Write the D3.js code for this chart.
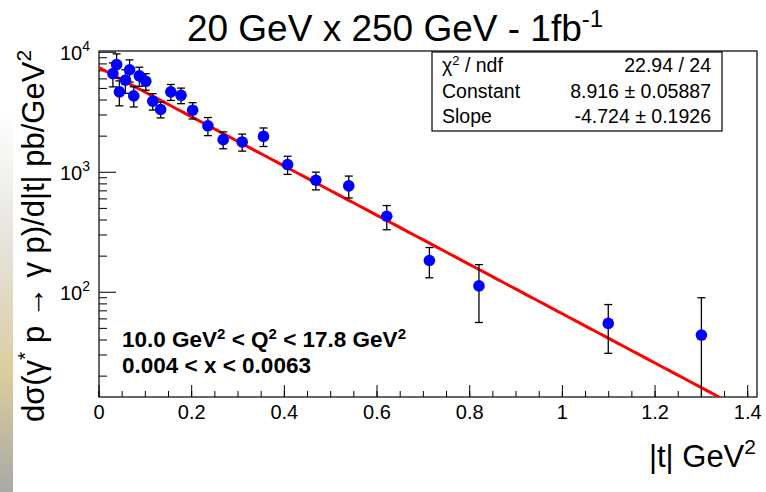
<!DOCTYPE html>
<meta charset="utf-8">
<style>
body { margin: 0; background: #fff; }
text { font-family: "Liberation Sans", Arial, sans-serif; fill: #000; }
.frame { fill: none; stroke: #000; stroke-width: 1.2; }
.tick line { stroke: #000; stroke-width: 1; }
.err { stroke: #000; stroke-width: 1.3; }
.pt { fill: #0000ff; }
.fit { fill: none; stroke: #ff0000; stroke-width: 3; }
</style>
<svg width="766" height="492"></svg>
<script src="https://d3js.org/d3.v7.min.js"></script>
<script>

// |t| bin centres (GeV^2), cross section (pb/GeV^2) and symmetric errors
var tVals   = [0.030, 0.038, 0.044, 0.057, 0.066, 0.075, 0.087, 0.101, 0.116, 0.133, 0.155,
               0.177, 0.202, 0.235, 0.268, 0.309, 0.355, 0.407, 0.468, 0.539, 0.621, 0.713,
               0.820, 1.099, 1.300];
var xsec    = [6650, 7900, 4680, 5850, 7150, 4330, 6360, 5730, 3910, 3340, 4680,
               4380, 3290, 2440, 1870, 1790, 1990, 1160, 858, 770, 430, 184,
               113, 55, 44];
var xsecErr = [1500, 1800, 1100, 1300, 1500, 830, 1150, 900, 610, 500, 710,
               650, 510, 420, 300, 290, 350, 200, 145, 160, 98, 52,
               57, 24, 46];

var xTicks = [0, 0.2, 0.4, 0.6, 0.8, 1, 1.2, 1.4];
var yTicks = [100, 1000, 10000];

var fitConst = 8.916, fitSlope = -4.724;
var statsRows = [
  ["χ² / ndf", "22.94 / 24"],
  ["Constant", "8.916 ± 0.05887"],
  ["Slope", "-4.724 ± 0.1926"]
];

var svg = d3.select("svg"),
    frame = {left: 99, right: 757, top: 51, bottom: 397};

// faint photo edge visible at the left border of the screenshot
var defs = svg.append("defs");
var grad = defs.append("linearGradient").attr("id", "edge")
    .attr("x1", 0).attr("y1", 0).attr("x2", 0).attr("y2", 1);
grad.append("stop").attr("offset", "0%").attr("stop-color", "#ffffff");
grad.append("stop").attr("offset", "35%").attr("stop-color", "#e6e3dc");
grad.append("stop").attr("offset", "70%").attr("stop-color", "#d9cc9c");
grad.append("stop").attr("offset", "100%").attr("stop-color", "#a9a9a6");
svg.append("rect").attr("x", 0).attr("y", 110).attr("width", 13).attr("height", 382)
    .attr("fill", "url(#edge)");

defs.append("clipPath").attr("id", "clip").append("rect")
    .attr("x", frame.left).attr("y", frame.top)
    .attr("width", frame.right - frame.left).attr("height", frame.bottom - frame.top);

var x = d3.scaleLinear().domain([0, 1.42]).range([frame.left, frame.right]),
    y = d3.scaleLog().domain([13.4, 10250]).range([frame.bottom, frame.top]);

// x axis ticks (inside the frame)
var xMinor = d3.range(0, 1.4201, 0.05);
var gx = svg.append("g").attr("class", "tick");
gx.selectAll("line.mi").data(xMinor).enter().append("line")
    .attr("x1", function(d) { return x(d); }).attr("x2", function(d) { return x(d); })
    .attr("y1", frame.bottom).attr("y2", frame.bottom - 6);
gx.selectAll("line.ma").data(xTicks).enter().append("line")
    .attr("x1", function(d) { return x(d); }).attr("x2", function(d) { return x(d); })
    .attr("y1", frame.bottom).attr("y2", frame.bottom - 12);
gx.selectAll("text").data(xTicks).enter().append("text")
    .attr("x", function(d) { return x(d); })
    .attr("y", frame.bottom + 22)
    .attr("text-anchor", "middle")
    .style("font-size", "20px")
    .text(function(d) { return d3.format("")(d); });

// y axis ticks (log, inside the frame)
var yMinor = [];
[10, 100, 1000].forEach(function(dec) {
  for (var k = 2; k <= 9; k++) yMinor.push(dec * k);
});
yMinor = yMinor.filter(function(v) { return v >= 13.4 && v <= 10250; });
var gy = svg.append("g").attr("class", "tick");
gy.selectAll("line.mi").data(yMinor).enter().append("line")
    .attr("x1", frame.left).attr("x2", frame.left + 8)
    .attr("y1", function(d) { return y(d); }).attr("y2", function(d) { return y(d); });
gy.selectAll("line.ma").data(yTicks).enter().append("line")
    .attr("x1", frame.left).attr("x2", frame.left + 17)
    .attr("y1", function(d) { return y(d); }).attr("y2", function(d) { return y(d); });
var yl = gy.selectAll("text").data(yTicks).enter().append("text")
    .attr("x", frame.left - 24)
    .attr("y", function(d) { return y(d) + 8; })
    .attr("text-anchor", "middle")
    .style("font-size", "20px");
yl.append("tspan").text("10");
yl.append("tspan").attr("dy", -9).style("font-size", "14px")
    .text(function(d) { return Math.round(Math.log10(d)); });

// frame
svg.append("rect").attr("class", "frame")
    .attr("x", frame.left).attr("y", frame.top)
    .attr("width", frame.right - frame.left).attr("height", frame.bottom - frame.top);

// fit function
var plot = svg.append("g").attr("clip-path", "url(#clip)");
var fitT = d3.range(0, 1.4201, 0.01);
plot.append("path").attr("class", "fit")
    .datum(fitT)
    .attr("d", d3.line()
      .x(function(d) { return x(d); })
      .y(function(d) { return y(Math.exp(fitConst + fitSlope * d)); }));

// error bars and points
var pts = tVals.map(function(t, i) { return {t: t, v: xsec[i], e: xsecErr[i]}; });
var eb = plot.selectAll(".eb").data(pts).enter().append("g").attr("class", "err");
eb.append("line")
    .attr("x1", function(d) { return x(d.t); }).attr("x2", function(d) { return x(d.t); })
    .attr("y1", function(d) { return y(d.v + d.e); })
    .attr("y2", function(d) { return d.v - d.e > 1 ? y(d.v - d.e) : frame.bottom + 5; });
eb.append("line")
    .attr("x1", function(d) { return x(d.t) - 4; }).attr("x2", function(d) { return x(d.t) + 4; })
    .attr("y1", function(d) { return y(d.v + d.e); }).attr("y2", function(d) { return y(d.v + d.e); });
eb.filter(function(d) { return d.v - d.e > 13.4; }).append("line")
    .attr("x1", function(d) { return x(d.t) - 4; }).attr("x2", function(d) { return x(d.t) + 4; })
    .attr("y1", function(d) { return y(d.v - d.e); }).attr("y2", function(d) { return y(d.v - d.e); });
plot.selectAll(".pt").data(pts).enter().append("circle")
    .attr("class", "pt")
    .attr("cx", function(d) { return x(d.t); })
    .attr("cy", function(d) { return y(d.v); })
    .attr("r", 5.8);

// stats box
var sb = svg.append("g");
sb.append("rect").attr("x", 432).attr("y", 52).attr("width", 290).attr("height", 79)
    .attr("fill", "#fff").attr("stroke", "#000").attr("stroke-width", 1.2);
sb.selectAll("text.k").data(statsRows).enter().append("text")
    .attr("x", 442).attr("y", function(d, i) { return 72 + i * 25.5; })
    .style("font-size", "19.5px")
    .html(function(d) { return d[0] === "χ² / ndf" ? "χ<tspan dy='-7' font-size='13px'>2</tspan><tspan dy='7'> / ndf</tspan>" : d[0]; });
sb.selectAll("text.v").data(statsRows).enter().append("text")
    .attr("x", 711).attr("y", function(d, i) { return 72 + i * 25.5; })
    .attr("text-anchor", "end")
    .style("font-size", "19.5px")
    .text(function(d) { return d[1]; });

// title
var title = svg.append("text").attr("x", 395).attr("y", 41)
    .attr("text-anchor", "middle").style("font-size", "37px");
title.append("tspan").text("20 GeV x 250 GeV - 1fb");
title.append("tspan").attr("dy", -14).style("font-size", "24px").text("-1");

// axis titles
var xt = svg.append("text").attr("x", 756).attr("y", 467)
    .attr("text-anchor", "end").style("font-size", "31px");
xt.append("tspan").text("|t| GeV");
xt.append("tspan").attr("dy", -13).style("font-size", "21px").text("2");

var ytl = svg.append("text")
    .attr("transform", "translate(44,236) rotate(-90)")
    .attr("text-anchor", "middle").style("font-size", "31px");
ytl.append("tspan").text("dσ(γ");
ytl.append("tspan").attr("dy", -12).style("font-size", "21px").text("*");
ytl.append("tspan").attr("dy", 12).text(" p → γ p)/d|t| pb/GeV");
ytl.append("tspan").attr("dy", -13).style("font-size", "21px").text("2");

// kinematic range
var ann = svg.append("g").style("font-weight", "bold");
var a1 = ann.append("text").attr("x", 122).attr("y", 347).style("font-size", "22.5px");
a1.append("tspan").text("10.0 GeV");
a1.append("tspan").attr("dy", -8).style("font-size", "15px").text("2");
a1.append("tspan").attr("dy", 8).text(" < Q");
a1.append("tspan").attr("dy", -8).style("font-size", "15px").text("2");
a1.append("tspan").attr("dy", 8).text(" < 17.8 GeV");
a1.append("tspan").attr("dy", -8).style("font-size", "15px").text("2");
ann.append("text").attr("x", 122).attr("y", 373).style("font-size", "22.5px")
    .text("0.004 < x < 0.0063");

</script>
